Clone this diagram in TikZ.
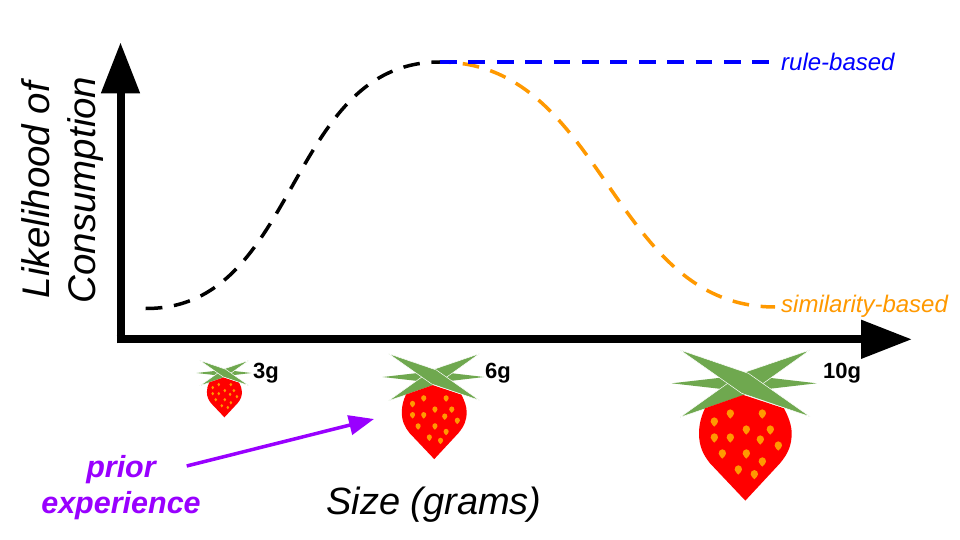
\documentclass[tikz,border=0pt]{standalone}
\usepackage{fontspec}
\setmainfont{Liberation Sans}
\usetikzlibrary{arrows.meta}
\definecolor{leafgreen}{HTML}{6FA84F}
\definecolor{seedorange}{HTML}{FF9900}
\definecolor{arrowpurple}{HTML}{9900FF}
\tikzset{
	axisline/.style={line width=8pt, -{Triangle[length=51pt, width=37pt]}},
	curveline/.style={line width=3.5pt, dash pattern=on 16.7pt off 11.7pt},
	curvelabel/.style={font=\fontsize{24}{28}\selectfont\itshape, inner sep=0pt, anchor=west},
	gramlabel/.style={font=\fontsize{22}{26}\selectfont\bfseries, inner sep=0pt},
	axislabel/.style={font=\fontsize{38.5}{46}\selectfont\itshape, inner sep=0pt, align=center},
	leafshape/.style={fill=leafgreen, draw=white, line width=0.5pt}
}
% Erdbeere: x, y, Massstab
\newcommand{\strawberry}[3]{
	\begin{scope}[shift={(#1,#2)}, x=#3pt, y=-#3pt]
		% Blaetter
		\fill[leafgreen] (-220,0) -- (0,-25) -- (215,0) -- (0,25) -- cycle;
		\filldraw[leafshape] (195,-100) -- (-10,-30) -- (-195,102) -- (10,32) -- cycle;
		% Frucht
		\fill[red] (-5,35) -- (-120,75) .. controls (-132,100) and (-138,125) .. (-138,150)
			.. controls (-138,190) and (-125,215) .. (-105,240) -- (1,352) -- (105,240)
			.. controls (130,210) and (140,185) .. (140,150)
			.. controls (140,125) and (130,100) .. (117,75) -- cycle;
		\filldraw[leafshape] (-195,-100) -- (10,-30) -- (195,100) -- (-10,30) -- cycle;
		% Samen
		\foreach \sx/\sy in {-92/115,-44/91,52/91,4/139,76/139,-92/163,-44/163,46/169,100/187,-68/211,4/211,52/235,-20/259,28/273}
			\fill[seedorange] (\sx,\sy-13) .. controls (\sx+8,\sy-13) and (\sx+11,\sy-6) .. (\sx+11,\sy)
				.. controls (\sx+11,\sy+6) and (\sx+4,\sy+10) .. (\sx,\sy+15)
				.. controls (\sx-4,\sy+10) and (\sx-11,\sy+6) .. (\sx-11,\sy)
				.. controls (\sx-11,\sy-6) and (\sx-8,\sy-13) .. (\sx,\sy-13) -- cycle;
	\end{scope}
}
\begin{document}
\begin{tikzpicture}[x=1pt, y=-1pt]
	\useasboundingbox (0,0) rectangle (960,540);
	\fill[white] (0,0) rectangle (960,540);
	% Achsen
	\coordinate (ybottom) at (120.5,343.3);
	\coordinate (ytip) at (120.5,42.3);
	\coordinate (xleft) at (116.5,339.3);
	\coordinate (xtip) at (912,339.3);
	\draw[axisline] (ybottom) -- (ytip);
	\draw[axisline] (xleft) -- (xtip);
	% Kurven
	\coordinate (curvestart) at (145.7,308.5);
	\coordinate (curvetop) at (440,62);
	\coordinate (ruleend) at (775,62);
	\coordinate (simend) at (775,307);
	\draw[curveline, black] (curvestart) .. controls (300,309) and (285,62) .. (curvetop);
	\draw[curveline, seedorange, dash phase=5.6pt] (curvetop) .. controls (605,62) and (610,307) .. (simend);
	\draw[curveline, blue] (curvetop) -- (ruleend);
	\node[curvelabel, text=blue] (rulelabel) at (781,62) {rule-based};
	\node[curvelabel, text=seedorange] (simlabel) at (781,306) {similarity-based};
	% Achsenbeschriftung
	\node[axislabel, rotate=90] (ylabel) at (63,190) {Likelihood of\\Consumption};
	\node[axislabel, font=\fontsize{38}{46}\selectfont\itshape] (xlabel) at (434,505) {Size (grams)};
	% Erdbeeren
	\strawberry{224.3}{373}{0.126}
	\strawberry{434}{377}{0.2333}
	\strawberry{745}{383.3}{0.3333}
	\node[gramlabel] (smalllabel) at (266,373) {3g};
	\node[gramlabel] (midlabel) at (498,373) {6g};
	\node[gramlabel] (biglabel) at (842,373) {10g};
	% Vorerfahrung
	\node[font=\fontsize{30.5}{36}\selectfont\bfseries\itshape, text=arrowpurple, align=center, inner sep=0pt] (priorlabel) at (121,488) {prior\\experience};
	\coordinate (priorstart) at (186.7,466);
	\coordinate (priorend) at (374,419);
	\draw[line width=3.5pt, arrowpurple, -{Triangle[length=25pt, width=19.5pt]}] (priorstart) -- (priorend);
\end{tikzpicture}
\end{document}
